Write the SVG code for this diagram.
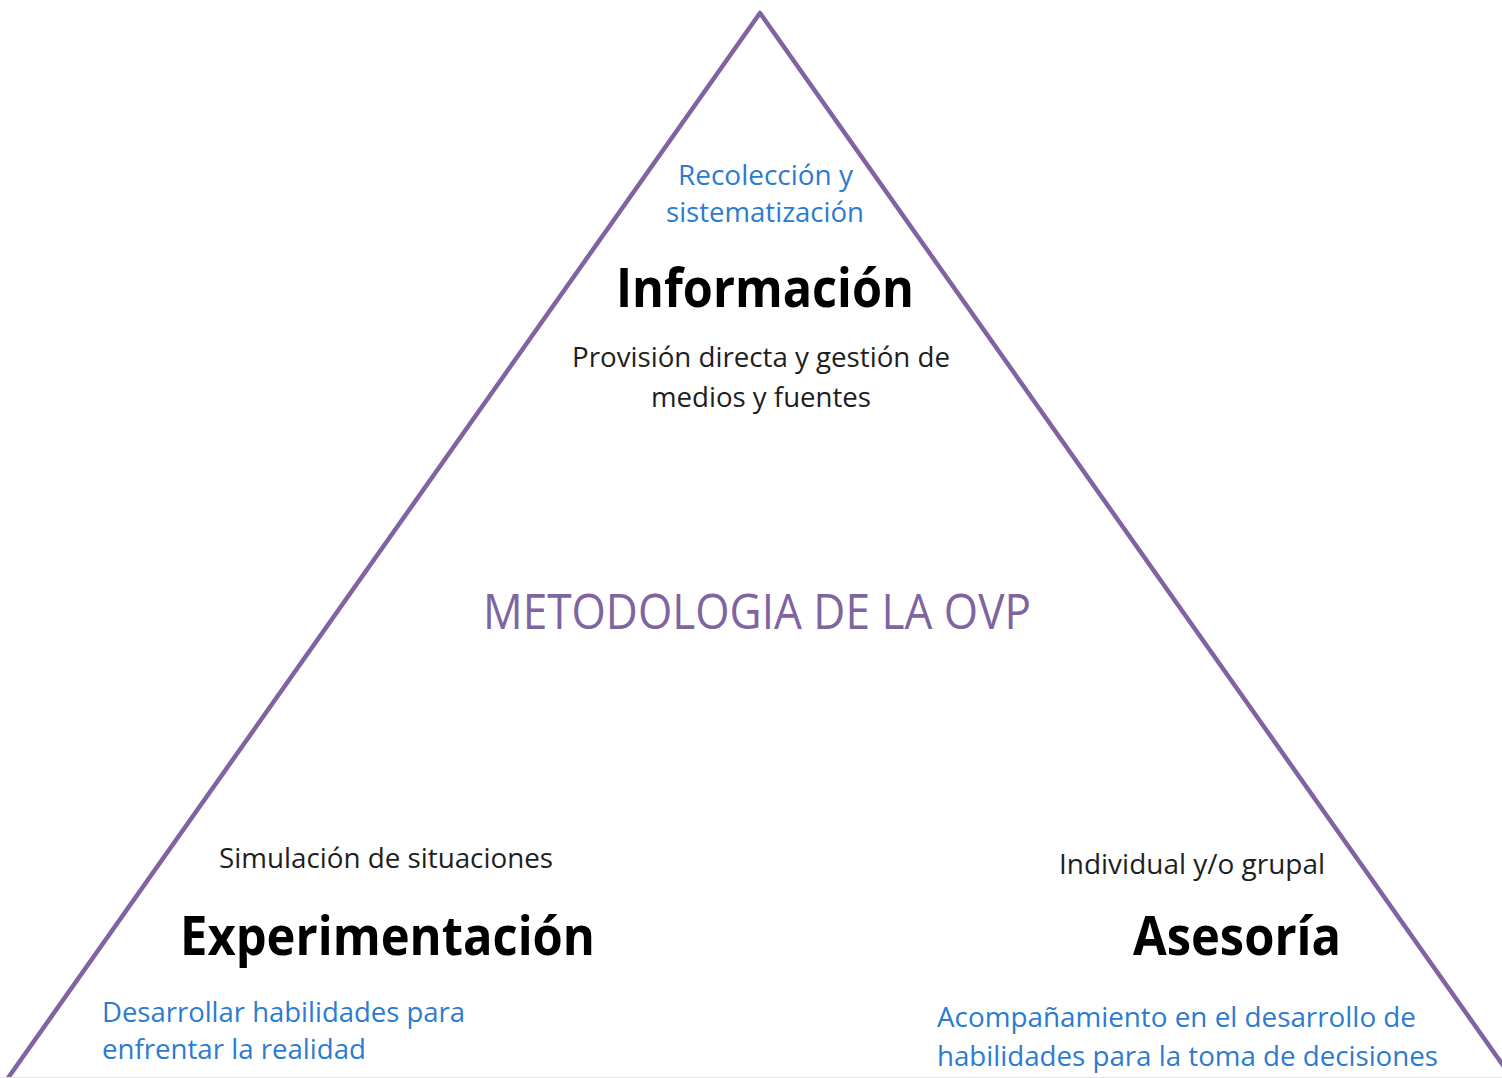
<svg xmlns="http://www.w3.org/2000/svg" width="1502" height="1078" viewBox="0 0 1502 1078">
<style>
text{font-family:"Open Sans","Noto Sans","DejaVu Sans",sans-serif}
.blue{fill:#2b7bd0;font-size:28px}
.small{fill:#1e1e1e;font-size:28px}
.head{fill:#000;font-size:53px;font-weight:bold}
.title{fill:#8064a2;font-size:49px}
.tri{fill:none;stroke:#8064a2;stroke-width:4.5;stroke-linejoin:round;stroke-linecap:round}
</style>
<rect x="0" y="0" width="1502" height="1078" fill="#fff"/>
<g id="pyramid">
<polyline class="tri" points="8,1078 760,13 1512,1078"/>
<line x1="0" y1="1077.5" x2="1502" y2="1077.5" stroke="#e6e6e6" stroke-width="1"/>
</g>
<g id="informacion">
<text class="blue" x="678" y="185" textLength="175" lengthAdjust="spacingAndGlyphs">Recolección y</text>
<text class="blue" x="666" y="222" textLength="198" lengthAdjust="spacingAndGlyphs">sistematización</text>
<text class="head" x="616" y="307" textLength="298" lengthAdjust="spacingAndGlyphs">Información</text>
<text class="small" x="572" y="367" textLength="378" lengthAdjust="spacingAndGlyphs">Provisión directa y gestión de</text>
<text class="small" x="651" y="407" textLength="220" lengthAdjust="spacingAndGlyphs">medios y fuentes</text>
</g>
<g id="metodologia">
<text class="title" x="483" y="629" textLength="548" lengthAdjust="spacingAndGlyphs">METODOLOGIA DE LA OVP</text>
</g>
<g id="experimentacion">
<text class="small" x="219" y="868" textLength="334" lengthAdjust="spacingAndGlyphs">Simulación de situaciones</text>
<text class="head" x="180" y="955" textLength="415" lengthAdjust="spacingAndGlyphs">Experimentación</text>
<text class="blue" x="102" y="1022" textLength="363" lengthAdjust="spacingAndGlyphs">Desarrollar habilidades para</text>
<text class="blue" x="102" y="1059" textLength="264" lengthAdjust="spacingAndGlyphs">enfrentar la realidad</text>
</g>
<g id="asesoria">
<text class="small" x="1059" y="874" textLength="266" lengthAdjust="spacingAndGlyphs">Individual y/o grupal</text>
<text class="head" x="1133" y="955" textLength="208" lengthAdjust="spacingAndGlyphs">Asesoría</text>
<text class="blue" x="937" y="1027" textLength="479" lengthAdjust="spacingAndGlyphs">Acompañamiento en el desarrollo de</text>
<text class="blue" x="937" y="1066" textLength="501" lengthAdjust="spacingAndGlyphs">habilidades para la toma de decisiones</text>
</g>
</svg>
